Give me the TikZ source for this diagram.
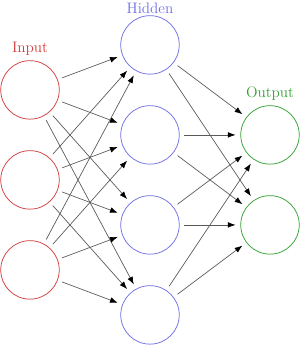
\documentclass[tikz,border=0pt]{standalone}
\usepackage{tikz}
\usetikzlibrary{arrows.meta}

\definecolor{inred}{RGB}{210,60,60}
\definecolor{hidblue}{RGB}{110,110,230}
\definecolor{outgreen}{RGB}{50,160,50}

\tikzset{
  neuron/.style={circle,draw,line width=0.7pt,minimum size=1.95cm,inner sep=0pt},
  link/.style={draw=black!65,line width=0.65pt,shorten <=1.6mm,shorten >=1.6mm,
    -{Latex[length=2.6mm,width=1.9mm,color=black]}},
}

\begin{document}
\begin{tikzpicture}
  \useasboundingbox (0,0) rectangle (10.067,12.067);
  % layers
  \foreach \i/\y in {1/9.07,2/6.07,3/3.07}
    \node[neuron,draw=inred] (in\i) at (1,\y) {};
  \foreach \i/\y in {1/10.57,2/7.57,3/4.57,4/1.57}
    \node[neuron,draw=hidblue] (hid\i) at (5,\y) {};
  \foreach \i/\y in {1/7.57,2/4.57}
    \node[neuron,draw=outgreen] (out\i) at (9,\y) {};
  % labels
  \node[inred,font=\Large] (inlab) at (1,10.45) {Input};
  \node[hidblue,font=\Large] (hidlab) at (5,11.8) {Hidden};
  \node[outgreen,font=\Large] (outlab) at (9,8.95) {Output};
  % connections
  \foreach \i in {1,2,3}
    \foreach \j in {1,2,3,4}
      \draw[link] (in\i) -- (hid\j);
  \foreach \j in {1,2,3,4}
    \foreach \k in {1,2}
      \draw[link] (hid\j) -- (out\k);
\end{tikzpicture}
\end{document}
